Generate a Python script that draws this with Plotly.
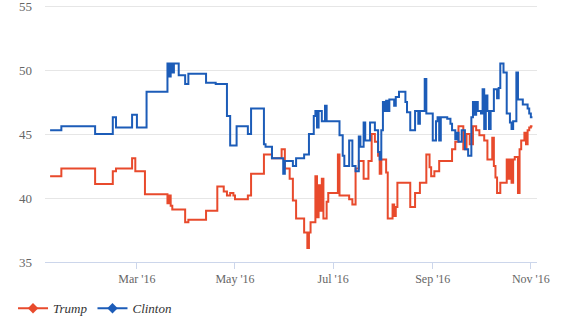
import plotly.graph_objects as go

# Poll averages, 2016 campaign (step changes on each update date)
clinton_dates = [
    "2016-01-07", "2016-01-14", "2016-02-04", "2016-02-15", "2016-02-17", "2016-02-27",
    "2016-03-01", "2016-03-07", "2016-03-20", "2016-03-21", "2016-03-22", "2016-03-23",
    "2016-03-24", "2016-03-27", "2016-03-31", "2016-04-02", "2016-04-13", "2016-04-19",
    "2016-04-26", "2016-04-28", "2016-05-02", "2016-05-09", "2016-05-11", "2016-05-19",
    "2016-05-20", "2016-05-24", "2016-05-31", "2016-06-01", "2016-06-06", "2016-06-08",
    "2016-06-13", "2016-06-16", "2016-06-19", "2016-06-20", "2016-06-21", "2016-06-22",
    "2016-06-24", "2016-06-26", "2016-06-27", "2016-07-05", "2016-07-07", "2016-07-08",
    "2016-07-11", "2016-07-13", "2016-07-15", "2016-07-17", "2016-07-18", "2016-07-20",
    "2016-07-21", "2016-07-24", "2016-07-27", "2016-07-29", "2016-07-30", "2016-07-31",
    "2016-08-01", "2016-08-02", "2016-08-03", "2016-08-04", "2016-08-05", "2016-08-08",
    "2016-08-09", "2016-08-11", "2016-08-15", "2016-08-16", "2016-08-18", "2016-08-21",
    "2016-08-23", "2016-08-24", "2016-08-27", "2016-08-28", "2016-09-01", "2016-09-03",
    "2016-09-04", "2016-09-05", "2016-09-06", "2016-09-10", "2016-09-12", "2016-09-13",
    "2016-09-15", "2016-09-16", "2016-09-17", "2016-09-19", "2016-09-21", "2016-09-23",
    "2016-09-25", "2016-09-26", "2016-09-27", "2016-09-28", "2016-09-29", "2016-10-01",
    "2016-10-02", "2016-10-03", "2016-10-04", "2016-10-05", "2016-10-06", "2016-10-07",
    "2016-10-09", "2016-10-11", "2016-10-12", "2016-10-13", "2016-10-15", "2016-10-17",
    "2016-10-19", "2016-10-20", "2016-10-21", "2016-10-23", "2016-10-24", "2016-10-27",
    "2016-10-30", "2016-10-31", "2016-11-01", "2016-11-02",
]
clinton_values = [
    45.3, 45.6, 45.0, 46.3, 45.5, 46.5,
    45.5, 48.3, 50.5, 49.5, 50.5, 49.8,
    50.5, 49.6, 48.9, 49.7, 49.0, 48.9,
    46.4, 44.1, 45.6, 45.0, 47.0, 44.2,
    44.0, 43.1, 41.9, 42.9, 42.5, 43.1,
    43.4, 45.0, 46.4, 46.8, 45.5, 46.8,
    46.0, 47.2, 46.0, 44.9, 43.3, 42.5,
    44.5, 42.5, 42.1, 44.8, 44.0, 45.9,
    44.5, 45.9, 45.3, 43.6, 43.0, 45.3,
    47.5, 46.8, 47.6, 46.8, 47.7, 47.2,
    47.9, 48.3, 47.5, 46.7, 45.3, 46.8,
    45.8, 46.8, 49.3, 46.6, 44.5, 46.0,
    46.3, 44.5, 46.3, 46.2, 45.8, 45.3,
    44.6, 45.1, 44.4, 45.3, 43.8, 43.3,
    46.3, 47.5, 46.5, 47.5, 46.8, 46.6,
    48.5, 45.4, 48.0, 46.8, 45.4, 46.8,
    48.5, 47.8, 48.6, 50.5, 49.8, 46.6,
    45.9, 45.4, 46.0, 49.8, 47.7, 47.3,
    47.0, 46.6, 46.3, 46.3,
]

trump_dates = [
    "2016-01-07", "2016-01-14", "2016-02-04", "2016-02-15", "2016-02-17", "2016-02-27",
    "2016-02-29", "2016-03-06", "2016-03-20", "2016-03-21", "2016-03-22", "2016-03-23",
    "2016-03-31", "2016-04-02", "2016-04-13", "2016-04-20", "2016-04-24", "2016-04-26",
    "2016-04-28", "2016-04-30", "2016-05-01", "2016-05-09", "2016-05-11", "2016-05-19",
    "2016-05-24", "2016-05-30", "2016-06-01", "2016-06-04", "2016-06-06", "2016-06-08",
    "2016-06-13", "2016-06-15", "2016-06-16", "2016-06-17", "2016-06-20", "2016-06-21",
    "2016-06-22", "2016-06-23", "2016-06-24", "2016-06-25", "2016-06-27", "2016-06-28",
    "2016-07-04", "2016-07-05", "2016-07-11", "2016-07-13", "2016-07-15", "2016-07-17",
    "2016-07-20", "2016-07-23", "2016-07-25", "2016-07-27", "2016-07-29", "2016-07-30",
    "2016-07-31", "2016-08-03", "2016-08-04", "2016-08-07", "2016-08-08", "2016-08-09",
    "2016-08-10", "2016-08-18", "2016-08-21", "2016-08-24", "2016-08-28", "2016-08-30",
    "2016-08-31", "2016-09-02", "2016-09-05", "2016-09-13", "2016-09-15", "2016-09-17",
    "2016-09-20", "2016-09-22", "2016-09-24", "2016-09-26", "2016-09-28", "2016-09-30",
    "2016-10-03", "2016-10-05", "2016-10-08", "2016-10-09", "2016-10-10", "2016-10-11",
    "2016-10-13", "2016-10-17", "2016-10-18", "2016-10-19", "2016-10-20", "2016-10-21",
    "2016-10-22", "2016-10-24", "2016-10-25", "2016-10-26", "2016-10-28", "2016-10-29",
    "2016-10-30", "2016-10-31", "2016-11-01", "2016-11-02",
]
trump_values = [
    41.7, 42.3, 41.1, 42.1, 42.3, 43.1,
    42.1, 40.3, 39.6, 40.2, 39.4, 39.1,
    38.1, 38.3, 39.0, 40.9, 40.5, 40.2,
    40.4, 40.2, 39.9, 40.2, 41.9, 43.4,
    43.1, 43.8, 42.3, 41.5, 39.8, 38.4,
    37.3, 36.1, 37.3, 38.1, 41.7, 38.5,
    41.0, 39.0, 41.5, 38.4, 39.7, 40.4,
    43.4, 40.2, 39.9, 39.5, 42.3, 42.9,
    41.5, 42.9, 45.0, 44.4, 43.3, 41.9,
    43.0, 42.0, 38.4, 39.5, 38.6, 39.3,
    41.2, 39.3, 40.4, 41.2, 43.4, 42.4,
    41.7, 42.1, 42.9, 43.8, 44.4, 45.6,
    43.8, 45.0, 44.2, 45.6, 45.3, 44.9,
    44.5, 43.0, 44.7, 42.5, 41.6, 40.4,
    41.2, 43.0, 41.5, 43.0, 41.2, 43.0,
    43.2, 40.4, 43.8, 44.5, 45.1, 44.2,
    45.3, 45.5, 45.6, 45.6,
]

month_ticks = ["2016-03-01", "2016-05-01", "2016-07-01", "2016-09-01", "2016-11-01"]
month_labels = ["Mar '16", "May '16", "Jul '16", "Sep '16", "Nov '16"]
y_ticks = [35, 40, 45, 50, 55]

TRUMP_COLOR = "#e84a2c"
CLINTON_COLOR = "#1c5cb8"
FONT = "Liberation Serif"

fig = go.Figure()

for name, dates, values, color in [
    ("Trump", trump_dates, trump_values, TRUMP_COLOR),
    ("Clinton", clinton_dates, clinton_values, CLINTON_COLOR),
]:
    fig.add_trace(go.Scatter(
        x=dates, y=values, mode="lines", name=name,
        line=dict(color=color, width=2, shape="hv"),
        showlegend=False, hoverinfo="x+y+name",
    ))
    # legend entry: line with a diamond marker
    fig.add_trace(go.Scatter(
        x=[None], y=[None], mode="lines+markers", name=name,
        line=dict(color=color, width=2),
        marker=dict(symbol="diamond", size=8, color=color),
        showlegend=True,
    ))

fig.update_layout(
    width=563, height=323,
    margin=dict(l=45, r=26, t=5, b=61, autoexpand=False),
    plot_bgcolor="white", paper_bgcolor="white",
    font=dict(family=FONT, color="#666666"),
    legend=dict(
        orientation="h", x=-0.065, y=-0.18, xanchor="left", yanchor="middle",
        font=dict(family=FONT, size=13, color="#333333", style="italic"),
        bgcolor="rgba(0,0,0,0)", itemclick=False, itemdoubleclick=False,
    ),
)

fig.update_xaxes(
    type="date",
    range=["2016-01-03 20:00", "2016-11-04 20:00"],
    tickvals=month_ticks, ticktext=month_labels,
    ticks="outside", ticklen=6, tickcolor="#ccd6eb", tickwidth=1,
    showline=True, linecolor="#ccd6eb", linewidth=1,
    showgrid=False, zeroline=False,
    tickfont=dict(family=FONT, size=12, color="#666666"),
)

fig.update_yaxes(
    range=[35, 55.08], tickvals=y_ticks,
    showgrid=True, gridcolor="#e6e6e6", gridwidth=1,
    showline=False, zeroline=False, ticks="",
    ticklabelstandoff=12, ticklabeloverflow="allow",
    tickfont=dict(family=FONT, size=13, color="#666666"),
)

fig.write_html("out.html")
